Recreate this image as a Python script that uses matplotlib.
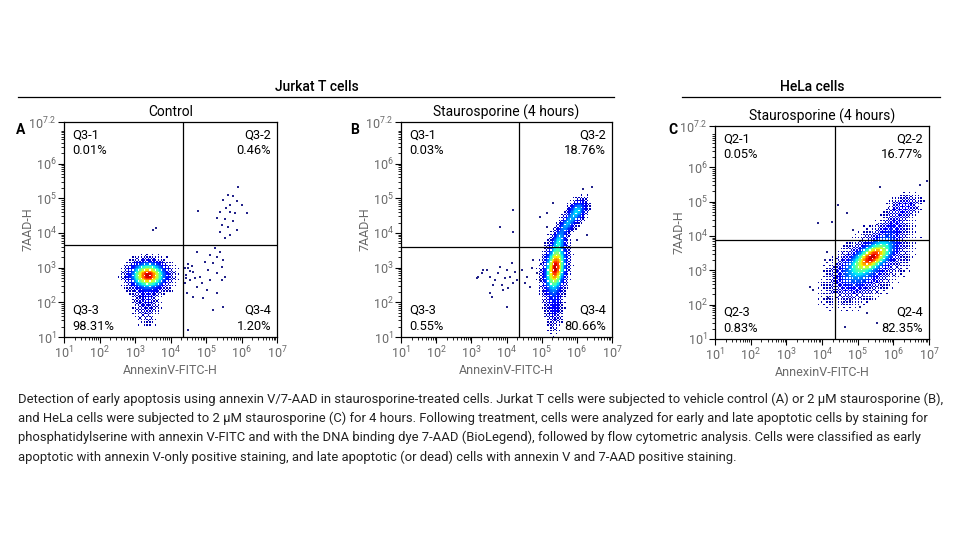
import numpy as np
import matplotlib
matplotlib.use('Agg')
import matplotlib.pyplot as plt
from matplotlib.ticker import FixedLocator, NullFormatter
from matplotlib.lines import Line2D

plt.rcParams['font.family'] = ['Roboto', 'DejaVu Sans']
plt.rcParams['mathtext.fontset'] = 'custom'
plt.rcParams['mathtext.rm'] = 'Roboto'
plt.rcParams['mathtext.it'] = 'Roboto:italic'
plt.rcParams['mathtext.bf'] = 'Roboto:bold'

# ---------------- data ----------------
group_titles = ['Jurkat T cells', 'HeLa cells']
panel_letters = ['A', 'B', 'C']
panel_titles = ['Control', 'Staurosporine (4 hours)', 'Staurosporine (4 hours)']
quad_names = [['Q3-1', 'Q3-2', 'Q3-3', 'Q3-4'],
              ['Q3-1', 'Q3-2', 'Q3-3', 'Q3-4'],
              ['Q2-1', 'Q2-2', 'Q2-3', 'Q2-4']]
quad_pcts = [['0.01%', '0.46%', '98.31%', '1.20%'],
             ['0.03%', '18.76%', '0.55%', '80.66%'],
             ['0.05%', '16.77%', '0.83%', '82.35%']]
gate_x = [4.35, 4.35, 4.36]   # log10 AnnexinV gate
gate_y = [3.64, 3.60, 3.89]   # log10 7AAD gate
x_label = 'AnnexinV-FITC-H'
y_label = '7AAD-H'
x_ticks = [1, 2, 3, 4, 5, 6, 7]
y_ticks = [1, 2, 3, 4, 5, 6, 7.2]
y_tick_labels = ['1', '2', '3', '4', '5', '6', '7.2']

# density clusters (log10 units): cx, cy, sx, sy, rho, weight
clusters_A = [
    (3.37, 2.78, 0.25, 0.19, 0.0, 1.00),
    (3.42, 2.72, 0.38, 0.29, 0.0, 0.06),
    (3.32, 2.05, 0.20, 0.38, 0.0, 0.07),
]
clusters_B = [
    (5.39, 3.00, 0.15, 0.36, 0.25, 1.00),
    (5.35, 1.95, 0.13, 0.40, 0.0, 0.10),
    (5.50, 3.80, 0.10, 0.18, 0.3, 0.28),
    (5.72, 4.25, 0.13, 0.16, 0.5, 0.28),
    (6.00, 4.62, 0.15, 0.18, 0.4, 0.34),
    (5.40, 3.00, 0.30, 0.55, 0.3, 0.02),
]
clusters_C = [
    (5.42, 3.40, 0.30, 0.25, 0.6, 1.00),
    (5.30, 3.15, 0.58, 0.55, 0.55, 0.16),
    (5.95, 4.20, 0.25, 0.25, 0.5, 0.12),
    (6.30, 4.85, 0.25, 0.18, 0.3, 0.12),
    (4.95, 2.95, 0.30, 0.30, 0.2, 0.16),
]
clusters = [clusters_A, clusters_B, clusters_C]

# sparse events (log10 x, log10 y)
sparse_A_x = [5.89, 5.63, 5.77, 5.49, 5.86, 5.69, 5.56, 6.00, 5.39, 5.68, 5.82, 6.15, 5.32, 5.54,
              5.77, 5.44, 5.63, 5.86, 5.39, 5.68, 5.54, 4.78, 3.52, 3.60,
              5.25, 5.39, 5.11, 5.30, 5.49, 4.74, 4.97, 5.21, 5.44, 5.07, 4.64, 5.30, 4.83, 4.55,
              5.11, 5.44, 4.41, 4.74, 5.02, 5.30, 4.46, 4.92, 5.49, 5.21, 4.64, 5.54, 4.50, 4.69,
              4.88, 4.50, 4.42, 4.45, 4.50, 4.43, 4.55, 4.60]
sparse_A_y = [5.32, 5.09, 5.07, 4.95, 4.93, 4.81, 4.71, 4.81, 4.61, 4.61, 4.57, 4.57, 4.42, 4.39,
              4.35, 4.23, 4.18, 4.09, 4.04, 3.94, 3.85, 4.64, 4.09, 4.15,
              3.56, 3.46, 3.36, 3.32, 3.22, 3.46, 3.17, 3.13, 3.03, 2.93, 2.88, 2.84, 2.74, 2.64,
              2.64, 2.64, 2.55, 2.45, 2.36, 2.26, 2.26, 2.12, 1.87, 1.78, 2.16, 2.74, 2.98, 2.69,
              2.55, 1.20, 3.00, 2.80, 3.10, 2.70, 2.90, 3.05]
sparse_B_x = [3.15, 3.29, 3.44, 3.53, 3.67, 3.77, 3.86, 3.96, 4.00, 4.10, 4.19, 3.53, 3.34, 3.82,
              4.05, 4.24, 3.62, 3.91, 4.15, 4.29, 3.58, 4.00, 3.20, 4.19, 3.82, 4.19,
              4.43, 4.57, 4.72, 4.53, 4.86, 4.67, 4.95, 4.76,
              5.33, 4.95, 5.14, 6.42, 6.18, 5.14, 6.29, 6.00]
sparse_B_y = [2.69, 2.84, 2.93, 2.74, 2.64, 2.84, 2.50, 2.69, 2.93, 2.74, 2.55, 2.26, 2.93, 3.03,
              2.40, 2.88, 2.50, 2.36, 3.13, 2.64, 2.16, 1.87, 2.74, 4.66, 4.18, 4.04,
              2.93, 2.74, 2.98, 2.55, 2.84, 2.45, 2.64, 3.22,
              4.86, 4.47, 4.57, 5.33, 5.26, 4.18, 3.94, 3.80]
sparse_C_x = [3.90, 4.27, 4.46, 4.13, 3.66, 3.76, 4.18, 4.08, 4.64, 5.25, 5.53, 5.07, 4.78,
              4.69, 4.88, 5.63, 6.75, 6.93]
sparse_C_y = [4.37, 4.41, 4.90, 3.54, 2.52, 2.43, 2.18, 3.30, 1.36, 1.75, 1.46, 1.94, 2.14,
              4.66, 4.17, 5.43, 5.48, 5.60]
sparse_x = [sparse_A_x, sparse_B_x, sparse_C_x]
sparse_y = [sparse_A_y, sparse_B_y, sparse_C_y]

caption_lines = [
    'Detection of early apoptosis using annexin V/7-AAD in staurosporine-treated cells. Jurkat T cells were subjected to vehicle control (A) or 2 \u00b5M staurosporine (B),',
    'and HeLa cells were subjected to 2 \u00b5M staurosporine (C) for 4 hours. Following treatment, cells were analyzed for early and late apoptotic cells by staining for',
    'phosphatidylserine with annexin V-FITC and with the DNA binding dye 7-AAD (BioLegend), followed by flow cytometric analysis. Cells were classified as early',
    'apoptotic with annexin V-only positive staining, and late apoptotic (or dead) cells with annexin V and 7-AAD positive staining.',
]

# ---------------- layout (figure pixels) ----------------
W, H = 960, 540
axes_px = [(64, 122, 277, 337), (401, 122, 612, 337), (715, 126, 929, 339)]
fill_full = [0.22, 0.22, 0.4]   # density level above which the cloud is solid

fig = plt.figure(figsize=(9.6, 5.4), dpi=100)
fig.patch.set_facecolor('white')


def fx(px):
    return px / W


def fy(py):
    return 1 - py / H


# ordered-dither matrix (8x8 Bayer) for speckled rendering
def bayer(n):
    if n == 1:
        return np.array([[0]])
    b = bayer(n // 2)
    return np.block([[4 * b, 4 * b + 2], [4 * b + 3, 4 * b + 1]])


B8 = (bayer(8) + 0.5) / 64.0

grey = '#6a6a6a'
cmap = plt.get_cmap('jet')

nx, ny = 150, 152
xe = np.linspace(1, 7, nx + 1)
ye = np.linspace(1, 7.2, ny + 1)
xc = 0.5 * (xe[:-1] + xe[1:])
yc = 0.5 * (ye[:-1] + ye[1:])
XC, YC = np.meshgrid(xc, yc)

for i in range(3):
    l, t, r, b = axes_px[i]
    ax = fig.add_axes([fx(l), fy(b), fx(r - l), (b - t) / H])
    ax.set_xscale('log')
    ax.set_yscale('log')
    ax.set_xlim(10 ** 1, 10 ** 7)
    ax.set_ylim(10 ** 1, 10 ** 7.2)

    # density
    D = np.zeros_like(XC)
    for (cx, cy, sx, sy, rho, w) in clusters[i]:
        dx = (XC - cx) / sx
        dy = (YC - cy) / sy
        q = (dx ** 2 - 2 * rho * dx * dy + dy ** 2) / (1 - rho ** 2)
        D += w * np.exp(-0.5 * q)
    D /= D.max()
    thr_min, thr_full = 0.004, fill_full[i]
    p = (np.log(np.maximum(D, 1e-12)) - np.log(thr_min)) / (np.log(thr_full) - np.log(thr_min))
    p = np.clip(p, 0, 0.92) ** 1.2
    mask_pat = np.tile(B8, (ny // 8 + 1, nx // 8 + 1))[:ny, :nx]
    visible = p > mask_pat
    v = 0.03 + 0.92 * D
    V = np.ma.masked_where(~visible, v)
    ax.pcolormesh(10 ** xe, 10 ** ye, V, cmap=cmap, vmin=0, vmax=1, shading='flat',
                  rasterized=True, zorder=1)
    ax.scatter(10 ** np.array(sparse_x[i]), 10 ** np.array(sparse_y[i]), s=1.3, marker='s',
               color='#22228a', linewidths=0, zorder=2)

    # gates
    ax.axvline(10 ** gate_x[i], color='black', lw=0.9, zorder=3)
    ax.axhline(10 ** gate_y[i], color='black', lw=0.9, zorder=3)

    # ticks
    ax.xaxis.set_major_locator(FixedLocator([10.0 ** k for k in x_ticks]))
    ax.set_xticklabels([r'$\mathregular{10^{%d}}$' % k for k in x_ticks])
    ax.yaxis.set_major_locator(FixedLocator([10.0 ** k for k in y_ticks]))
    ax.set_yticklabels([r'$\mathregular{10^{%s}}$' % s for s in y_tick_labels])
    minors = [m * 10.0 ** k for k in range(1, 7) for m in range(2, 10)]
    ax.xaxis.set_minor_locator(FixedLocator(minors))
    ax.yaxis.set_minor_locator(FixedLocator([m for m in minors if m < 10 ** 7.2]))
    ax.xaxis.set_minor_formatter(NullFormatter())
    ax.yaxis.set_minor_formatter(NullFormatter())
    ax.tick_params(which='major', direction='out', length=4, width=0.8, labelsize=9,
                   labelcolor=grey, pad=1.5)
    ax.tick_params(which='minor', direction='out', length=2, width=0.6)
    for sp in ax.spines.values():
        sp.set_linewidth(0.9)
        sp.set_color('black')

    wpx, hpx = r - l, b - t
    ax.set_xlabel(x_label, fontsize=9, color=grey, labelpad=2)
    ax.set_ylabel(y_label, fontsize=9, color=grey)
    ax.yaxis.set_label_coords(-29.5 / wpx, 0.5)
    ax.set_title(panel_titles[i], fontsize=10, pad=4)

    # quadrant labels
    lx, rx = 8 / wpx, 1 - 6 / wpx
    y1a, y1b = 1 - 13 / hpx, 1 - 29 / hpx
    y2a, y2b = 1 - (b - 11 - 16 - t) / hpx, 11 / hpx
    kw = dict(transform=ax.transAxes, fontsize=9.3, va='center', zorder=4)
    ax.text(lx, y1a, quad_names[i][0], ha='left', **kw)
    ax.text(lx, y1b, quad_pcts[i][0], ha='left', **kw)
    ax.text(rx, y1a, quad_names[i][1], ha='right', **kw)
    ax.text(rx, y1b, quad_pcts[i][1], ha='right', **kw)
    ax.text(lx, y2a, quad_names[i][2], ha='left', **kw)
    ax.text(lx, y2b, quad_pcts[i][2], ha='left', **kw)
    ax.text(rx, y2a, quad_names[i][3], ha='right', **kw)
    ax.text(rx, y2b, quad_pcts[i][3], ha='right', **kw)

# panel letters
for letter, (px, py) in zip(panel_letters, [(21, 130), (355, 130), (673, 130)]):
    fig.text(fx(px), fy(py), letter, fontsize=10, fontweight='bold', ha='center', va='center')

# group headers
for title, cx, x0, x1 in zip(group_titles, [317, 812], [18, 682], [614, 940]):
    fig.text(fx(cx), fy(87), title, fontsize=10, fontweight='medium', ha='center', va='center')
    fig.add_artist(Line2D([fx(x0), fx(x1)], [fy(97), fy(97)], color='black', lw=0.9))

# caption
for k, line in enumerate(caption_lines):
    fig.text(fx(18), fy(399 + 19.3 * k), line, fontsize=9.35, ha='left', va='center',
             color='#222222')

fig.savefig('out.png', dpi=100, facecolor='white')
